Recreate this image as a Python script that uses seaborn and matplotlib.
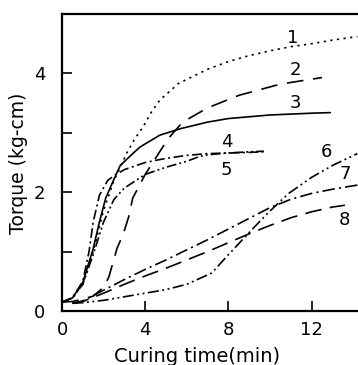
import matplotlib
matplotlib.use("Agg")
import matplotlib.pyplot as plt
import seaborn as sns
import pandas as pd

# ---- data ----
t1 = [0, 0.5, 1, 1.5, 2, 2.5, 2.8, 3.1, 3.5, 3.9, 4.3, 4.7, 5.6, 7, 8, 9, 10, 11, 12, 13, 14.2]
v1 = [0.15, 0.22, 0.45, 1.0, 1.7, 2.2, 2.42, 2.65, 2.9, 3.1, 3.35, 3.55, 3.83, 4.07, 4.2, 4.3, 4.38, 4.45, 4.5, 4.56, 4.62]

t2 = [0, 0.5, 1, 1.5, 2, 2.25, 2.65, 2.95, 3.2, 3.4, 4, 4.55, 5.1, 5.8, 7, 8.5, 10.5, 12.5]
v2 = [0.15, 0.16, 0.2, 0.25, 0.4, 0.57, 1.06, 1.3, 1.58, 1.9, 2.3, 2.6, 2.9, 3.18, 3.42, 3.63, 3.82, 3.93]

t3 = [0, 0.5, 1, 1.5, 1.8, 2.1, 2.5, 2.8, 3.4, 3.75, 4.7, 5.7, 7, 8, 10, 12, 12.9]
v3 = [0.15, 0.22, 0.48, 1.05, 1.5, 1.9, 2.22, 2.45, 2.65, 2.76, 2.96, 3.07, 3.18, 3.24, 3.3, 3.33, 3.34]

t4 = [0, 0.5, 1, 1.3, 1.5, 1.8, 2.2, 2.6, 3, 4, 5, 6, 7, 8, 9, 9.7]
v4 = [0.15, 0.22, 0.5, 1.0, 1.5, 1.95, 2.2, 2.3, 2.38, 2.5, 2.57, 2.62, 2.65, 2.66, 2.67, 2.68]

t5 = [0, 0.5, 1, 1.5, 2, 2.5, 3, 4, 5, 6, 6.6, 7, 8, 9, 9.7]
v5 = [0.15, 0.22, 0.45, 0.95, 1.5, 1.88, 2.07, 2.3, 2.42, 2.52, 2.6, 2.63, 2.66, 2.68, 2.69]

t6 = [0.5, 1, 2, 3, 4, 5, 6, 7.2, 7.9, 9.1, 9.9, 10.9, 12, 13, 14.2]
v6 = [0.13, 0.14, 0.18, 0.24, 0.3, 0.36, 0.45, 0.64, 0.91, 1.36, 1.65, 1.98, 2.25, 2.45, 2.65]

t7 = [0.5, 1, 2, 3, 4, 5, 6, 7, 8, 9, 10, 11, 12, 13, 14.2]
v7 = [0.13, 0.17, 0.35, 0.53, 0.7, 0.86, 1.03, 1.2, 1.38, 1.56, 1.74, 1.88, 1.98, 2.05, 2.12]

t8 = [0.5, 1, 2, 3, 4, 5, 6, 7, 8, 9, 10, 11, 12, 13, 13.6]
v8 = [0.13, 0.16, 0.3, 0.45, 0.59, 0.72, 0.86, 1.0, 1.15, 1.3, 1.44, 1.57, 1.67, 1.75, 1.78]

curve_names = ["1", "2", "3", "4", "5", "6", "7", "8"]
label_x = [11.1, 11.2, 11.2, 7.9, 7.9, 12.7, 13.6, 13.6]
label_y = [4.6, 4.05, 3.5, 2.84, 2.37, 2.67, 2.3, 1.53]

x_ticks = [0, 4, 8, 12]
y_ticks = [0, 1, 2, 3, 4]
y_ticklabels = ["0", "", "2", "", "4"]

# ---- build table ----
times = [t1, t2, t3, t4, t5, t6, t7, t8]
vals = [v1, v2, v3, v4, v5, v6, v7, v8]
rows = []
for name, ts, vs in zip(curve_names, times, vals):
    for t, v in zip(ts, vs):
        rows.append({"curve": name, "time": t, "torque": v})
df = pd.DataFrame(rows)

sns.set_style("ticks")
plt.rcParams["font.family"] = ["DejaVu Sans"]
plt.rcParams["lines.scale_dashes"] = False
plt.rcParams["text.color"] = "black"
plt.rcParams["xtick.labelcolor"] = "black"
plt.rcParams["ytick.labelcolor"] = "black"

dashes = {
    "1": (1.6, 3.2),
    "2": (12, 7),
    "3": "",
    "4": (7, 2.5, 1.5, 2.5),
    "5": (7, 2.2, 1.4, 2.2, 1.4, 2.2),
    "6": (8, 2.5, 1.4, 2.5, 1.4, 2.5),
    "7": (9, 3, 1.5, 3),
    "8": (12, 6),
}
palette = {n: "black" for n in curve_names}

fig = plt.figure(figsize=(3.58, 3.65), dpi=100)
ax = fig.add_axes([62 / 358, 54 / 365, 296 / 358, 297 / 365])

sns.lineplot(data=df, x="time", y="torque", hue="curve", style="curve",
             dashes=dashes, palette=palette, linewidth=1.2, legend=False,
             sort=False, estimator=None, ax=ax)

ax.set_xlim(0, 14.23)
ax.set_ylim(0, 5.0)
ax.set_xticks(x_ticks)
ax.set_xticklabels([str(v) for v in x_ticks])
ax.set_yticks(y_ticks)
ax.set_yticklabels(y_ticklabels)
ax.tick_params(direction="in", length=7, width=1.2, labelsize=13,
               color="black", labelcolor="black")
ax.tick_params(axis="y", pad=12)
ax.tick_params(axis="x", pad=7)
ax.set_xlabel("")
ax.set_ylabel("")

for side in ["left", "bottom", "top"]:
    ax.spines[side].set_linewidth(1.6)
    ax.spines[side].set_color("black")
ax.spines["right"].set_visible(False)

for name, lx, ly in zip(curve_names, label_x, label_y):
    ax.text(lx, ly, name, fontsize=13, ha="center", va="center", color="black")

fig.text(197 / 358, 1 - 356 / 365, "Curing time(min)", fontsize=14,
         ha="center", va="center", color="black")
fig.text(19 / 358, 1 - 163 / 365, "Torque (kg-cm)", fontsize=13.5,
         ha="center", va="center", rotation=90, color="black")

fig.savefig("out.png", dpi=100, facecolor="white")
